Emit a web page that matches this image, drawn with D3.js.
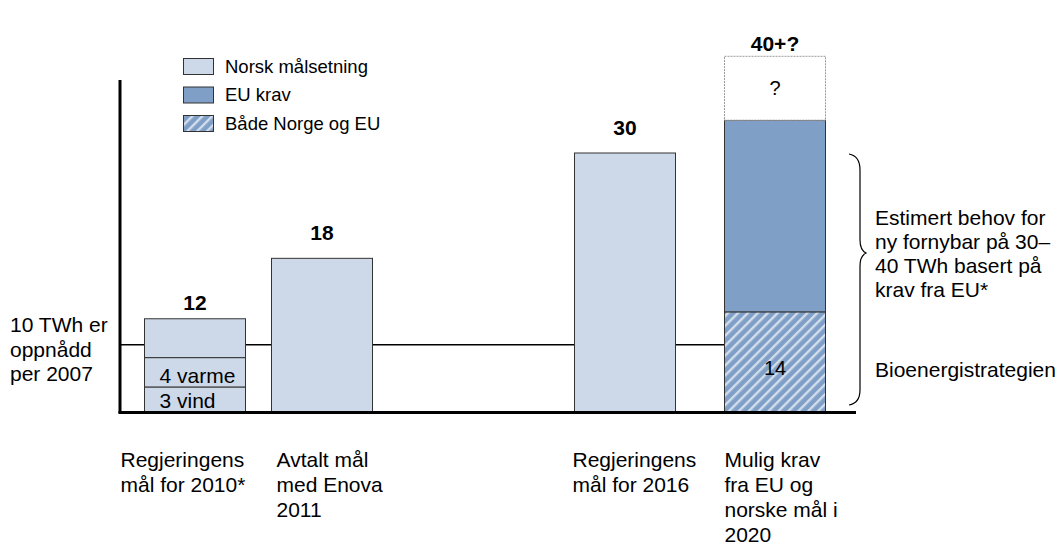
<!DOCTYPE html>
<html><head><meta charset="utf-8">
<script src="https://cdn.jsdelivr.net/npm/d3@7"></script>
<style>
html,body{margin:0;padding:0;background:#fff;}
text{font-family:"Liberation Sans",Arial,sans-serif;fill:#000;}
</style></head>
<body><svg id="c" width="1062" height="545"></svg>
<script>
// ---- data ----
const categories = ["c2010", "c2011", "c2016", "c2020"];
const categoryLines = [
  ["Regjeringens", "mål for 2010*"],
  ["Avtalt mål", "med Enova", "2011"],
  ["Regjeringens", "mål for 2016"],
  ["Mulig krav", "fra EU og", "norske mål i", "2020"]
];
const totalLabels = ["12", "18", "30", "40+?"];
const vindValues    = [2.9, 0, 0, 0];
const varmeValues   = [3.4, 0, 0, 0];
const norskValues   = [4.5, 17.8, 30, 0];
const bothValues    = [0, 0, 0, 11.6];
const euValues      = [0, 0, 0, 22.2];
const unknownValues = [0, 0, 0, 7.4];
const achievedLevel = 7.8;
const legendNames = ["Norsk målsetning", "EU krav", "Både Norge og EU"];
const segmentText = {vind: "3 vind", varme: "4 varme", both: "14", unknown: "?"};
const leftNote = ["10 TWh er", "oppnådd", "per 2007"];
const braceNote = ["Estimert behov for", "ny fornybar på 30–", "40 TWh basert på", "krav fra EU*"];
const braceNote2 = "Bioenergistrategien";

// ---- build ----
const keys = ["vind", "varme", "norsk", "both", "eu", "unknown"];
const valueMap = {vind: vindValues, varme: varmeValues, norsk: norskValues, both: bothValues, eu: euValues, unknown: unknownValues};
const rows = categories.map((c, i) => { const r = {cat: c}; keys.forEach(k => r[k] = valueMap[k][i]); return r; });
const stack = d3.stack().keys(keys)(rows);

const svg = d3.select("#c");
const y = d3.scaleLinear().domain([0, 30]).range([412, 153]);
const x = d3.scaleOrdinal().domain(categories).range([195, 322, 625, 775]);
const barW = 101;

const cLight = "#cdd9e9", cEU = "#7f9fc7";
const fillFor = {vind: cLight, varme: cLight, norsk: cLight, both: "url(#hatch)", eu: cEU, unknown: "#fff"};
const textShift = {vind: 0, varme: 0, both: 13, unknown: 7};

const defs = svg.append("defs");
const pat = defs.append("pattern").attr("id", "hatch").attr("patternUnits", "userSpaceOnUse")
  .attr("width", 7).attr("height", 7).attr("patternTransform", "rotate(45)");
pat.append("rect").attr("width", 7).attr("height", 7).attr("fill", cEU);
pat.append("rect").attr("x", 0).attr("y", 0).attr("width", 2.4).attr("height", 7)
  .attr("fill", "#d3deed");

// reference line (10 TWh achieved)
svg.append("line").attr("x1", 120).attr("x2", x(categories[3]) - barW / 2)
  .attr("y1", y(achievedLevel)).attr("y2", y(achievedLevel))
  .attr("stroke", "#000").attr("stroke-width", 1.5);

// bars
stack.forEach(layer => {
  svg.append("g").selectAll("rect").data(layer.filter(d => d[1] - d[0] > 0)).join("rect")
    .attr("x", d => x(d.data.cat) - barW / 2)
    .attr("width", barW)
    .attr("y", d => y(d[1]))
    .attr("height", d => y(d[0]) - y(d[1]))
    .attr("fill", fillFor[layer.key])
    .attr("stroke", layer.key === "unknown" ? "#999" : "#333")
    .attr("stroke-dasharray", layer.key === "unknown" ? "2,1" : null)
    .attr("stroke-width", 1);
  if (segmentText[layer.key]) {
    const left = layer.key === "vind" || layer.key === "varme";
    svg.append("g").selectAll("text").data(layer.filter(d => d[1] - d[0] > 0)).join("text")
      .attr("x", d => left ? x(d.data.cat) - barW / 2 + 15 : x(d.data.cat))
      .attr("y", d => left ? y(d[0]) - 4 : (y(d[0]) + y(d[1])) / 2 + textShift[layer.key])
      .attr("text-anchor", left ? "start" : "middle")
      .attr("font-size", left ? 21 : 20)
      .text(segmentText[layer.key]);
  }
});

// total labels
const totals = rows.map(r => keys.reduce((s, k) => s + r[k], 0));
const labelGap = [9, 18, 18, 5];
svg.append("g").selectAll("text").data(categories).join("text")
  .attr("x", d => x(d)).attr("y", (d, i) => y(totals[i]) - labelGap[i])
  .attr("text-anchor", "middle").attr("font-size", 21).attr("font-weight", "bold")
  .text((d, i) => totalLabels[i]);

// axes (no ticks)
svg.append("line").attr("x1", 120).attr("x2", 120).attr("y1", 80).attr("y2", y(0) + 1.5)
  .attr("stroke", "#000").attr("stroke-width", 3);
svg.append("line").attr("x1", 118.5).attr("x2", 856).attr("y1", y(0) + 0.5).attr("y2", y(0) + 0.5)
  .attr("stroke", "#000").attr("stroke-width", 3);

// category labels
const labelShift = [-24, 5, -2, 0];
categories.forEach((c, i) => {
  const lx = x(c) - barW / 2 + labelShift[i];
  const t = svg.append("text").attr("font-size", 21);
  categoryLines[i].forEach((s, j) => t.append("tspan").attr("x", lx).attr("y", 467 + j * 25).text(s));
});

// legend
const lg = svg.append("g");
const legendFill = [cLight, cEU, "url(#hatch)"];
legendNames.forEach((n, i) => {
  lg.append("rect").attr("x", 183.5).attr("y", 58.5 + i * 28.5).attr("width", 30).attr("height", 16)
    .attr("fill", legendFill[i]).attr("stroke", "#333").attr("stroke-width", 1);
  lg.append("text").attr("x", 225).attr("y", 72.5 + i * 28.5).attr("font-size", 18.5).text(n);
});

// left note
const ln = svg.append("text").attr("font-size", 21);
leftNote.forEach((s, j) => ln.append("tspan").attr("x", 10).attr("y", 332 + j * 24.5).text(s));

// brace
svg.append("path")
  .attr("d", "M849,154 Q860,156 860,170 L860,240 Q860,250 866,253 Q860,256 860,266 L860,390 Q860,403 849,405")
  .attr("fill", "none").attr("stroke", "#000").attr("stroke-width", 1.2);
const bn = svg.append("text").attr("font-size", 21);
braceNote.forEach((s, j) => bn.append("tspan").attr("x", 875).attr("y", 225 + j * 24).text(s));
svg.append("text").attr("font-size", 21).attr("x", 875).attr("y", 377).text(braceNote2);
</script></body></html>
